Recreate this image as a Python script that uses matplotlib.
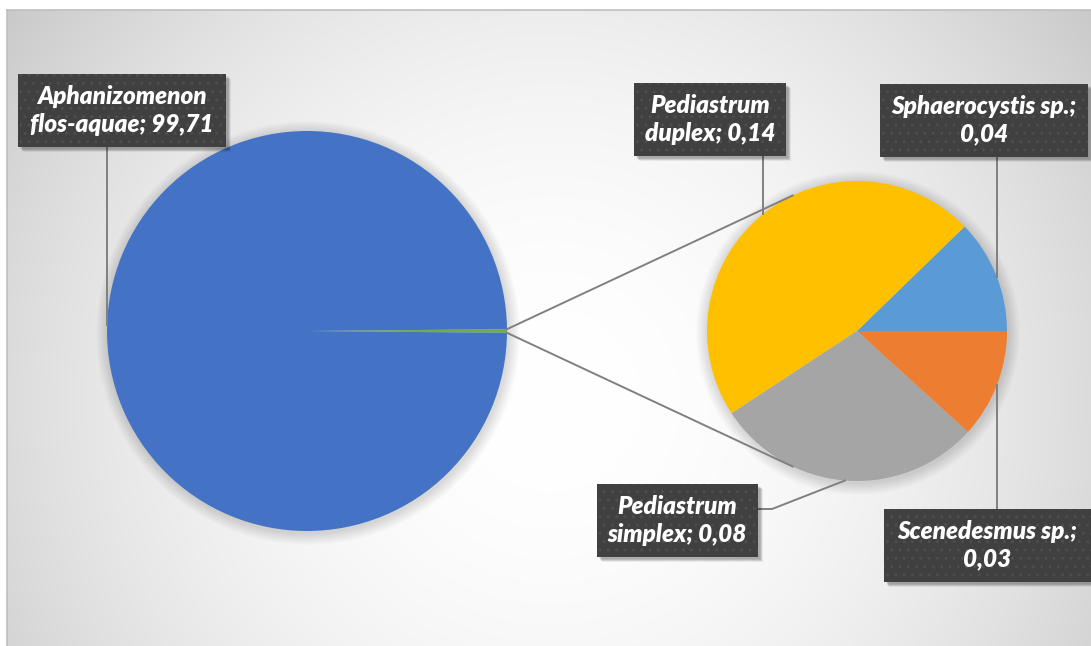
import numpy as np
import matplotlib.pyplot as plt
from matplotlib.patches import Rectangle, Circle

# data
main_labels = ['Other', 'Aphanizomenon\nflos-aquae']
main_values = [0.29, 99.71]
main_text = '99,71'
main_colors = ['#70AD47', '#4472C4']

sub_labels = ['Sphaerocystis sp.;', 'Pediastrum\nduplex;', 'Pediastrum\nsimplex;', 'Scenedesmus sp.;']
sub_values = [0.0355, 0.136, 0.084, 0.034]
sub_text = ['0,04', '0,14', '0,08', '0,03']
sub_colors = ['#5B9BD5', '#FFC000', '#A5A5A5', '#ED7D31']

W, H = 1091, 646
fig = plt.figure(figsize=(W / 100, H / 100), dpi=100)
ax = fig.add_axes([0, 0, 1, 1])

# radial grey background
yy, xx = np.mgrid[10:H, 7:W]
d = np.hypot(xx - 550, yy - 400)
t = d / d.max()
g = 1 - 0.21 * t ** 2
ax.imshow(np.dstack([g, g, g]), extent=(7, W, 0, H - 10), origin='upper',
          zorder=0, interpolation='bilinear')
ax.plot([7, 7], [0, H - 10], color='#bfbfbf', lw=1.2, zorder=1)
ax.plot([7, W], [H - 10, H - 10], color='#bfbfbf', lw=1.2, zorder=1)

c1, r1 = (307, 315), 200
c2, r2 = (857, 315), 150


def soft_shadow(c, r):
    for k in range(12):
        ax.add_patch(Circle((c[0] + 1, c[1] - 2), r + 12 - k, color='black',
                            alpha=0.012, lw=0, zorder=2))


soft_shadow(c1, r1)
soft_shadow(c2, r2)

other_frac = main_values[0] / sum(main_values)
ax.pie(main_values, colors=main_colors, radius=r1, center=c1,
       startangle=-other_frac * 180, counterclock=True,
       wedgeprops=dict(linewidth=0, zorder=3))
ax.pie(sub_values, colors=sub_colors, radius=r2, center=c2,
       startangle=0, counterclock=True,
       wedgeprops=dict(linewidth=0, zorder=3))

# connector lines (tangents from the big pie edge to the small pie)
ang = np.radians(other_frac * 180)
for s in (1, -1):
    p = (c1[0] + r1 * np.cos(ang), c1[1] + s * r1 * np.sin(ang))
    dist = np.hypot(c2[0] - p[0], c2[1] - p[1])
    a = np.pi - np.arccos(r2 / dist)
    q = (c2[0] + r2 * np.cos(a), c2[1] + s * r2 * np.sin(a))
    ax.plot([p[0], q[0]], [p[1], q[1]], color='#808080', lw=1.4, zorder=4)

line_kw = dict(color='#808080', lw=1.4, zorder=4)


def label_box(cx, cy, w, text):
    h = 73
    for k in range(6):
        ax.add_patch(Rectangle((cx - w / 2 + 2 + k * 0.6, cy - h / 2 - 2 - k * 0.6), w, h,
                               color='black', alpha=0.06, lw=0, zorder=5))
    ax.add_patch(Rectangle((cx - w / 2, cy - h / 2), w, h, facecolor='#404040',
                           edgecolor='#4e4e4e', hatch='..', lw=0, zorder=6))
    ax.text(cx, cy, text, ha='center', va='center', color='white', fontsize=17.5,
            family=['Lato', 'DejaVu Sans'], weight='heavy', style='italic',
            linespacing=1.22, zorder=7)
    return cy - h / 2, cy + h / 2


def y_on(c, r, x, s):
    return c[1] + s * np.sqrt(r ** 2 - (x - c[0]) ** 2)


# Aphanizomenon
bot, top = label_box(122, 535.5, 208, main_labels[1] + '; ' + main_text)
x = c1[0] - r1
ax.plot([x, x], [bot, c1[1] + 6], **line_kw)

# Pediastrum duplex
bot, top = label_box(710, 526.5, 152, sub_labels[1] + ' ' + sub_text[1])
ax.plot([763, 763], [bot, y_on(c2, r2, 763, 1)], **line_kw)

# Sphaerocystis
bot, top = label_box(984, 525.5, 208, sub_labels[0] + '\n' + sub_text[0])
ax.plot([997, 997], [bot, y_on(c2, r2, 997, 1)], **line_kw)

# Pediastrum simplex
bot, top = label_box(677.5, 125.5, 161, sub_labels[2] + ' ' + sub_text[2])
px = 845
ax.plot([758, 772, px], [137, 137, y_on(c2, r2, px, -1)], **line_kw)

# Scenedesmus
bot, top = label_box(987.5, 100.5, 207, sub_labels[3] + '\n' + sub_text[3])
ax.plot([997, 997], [top, y_on(c2, r2, 997, -1)], **line_kw)

ax.set_xlim(0, W)
ax.set_ylim(0, H)
ax.axis('off')
fig.savefig('out.png', dpi=100, facecolor='white')
